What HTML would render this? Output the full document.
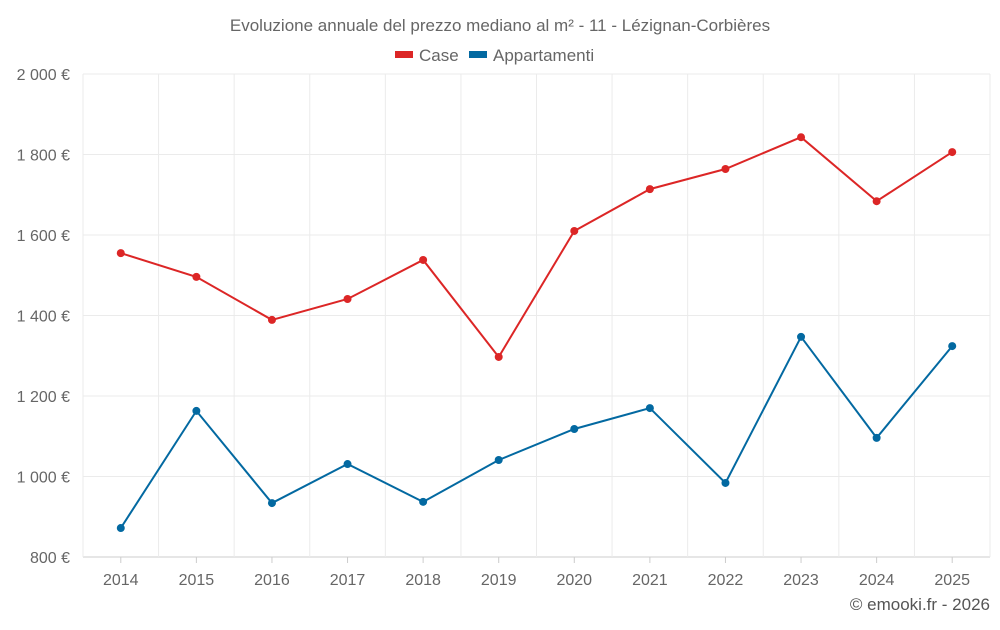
<!DOCTYPE html>
<html><head><meta charset="utf-8"><style>
body{margin:0;background:#fff;width:1000px;height:625px;overflow:hidden;font-family:"Liberation Sans",sans-serif}
</style></head><body>
<svg id="chart" width="1000" height="625" xmlns="http://www.w3.org/2000/svg" font-family="Liberation Sans, sans-serif">
<text x="500" y="31" text-anchor="middle" font-size="17" fill="#666">Evoluzione annuale del prezzo mediano al m² - 11 - Lézignan-Corbières</text>
<g>
<g><rect x="395" y="51" width="18" height="7" fill="#dc2626"/><text x="419" y="61" font-size="17" fill="#666">Case</text></g>
<g><rect x="469" y="51" width="18" height="7" fill="#0369a1"/><text x="493" y="61" font-size="17" fill="#666">Appartamenti</text></g>
</g>
<g id="grid"></g>
<g id="axes"></g>
<g id="series"></g>
<text x="990" y="610" text-anchor="end" font-size="17" fill="#555">© emooki.fr - 2026</text>
</svg>
<script>
const years=[2014,2015,2016,2017,2018,2019,2020,2021,2022,2023,2024,2025];
const caseValues=[1555,1496,1389,1441,1538,1297,1610,1714,1764,1843,1684,1806];
const apptValues=[872,1163,934,1031,937,1041,1118,1170,984,1347,1096,1324];
const yTicks=[800,1000,1200,1400,1600,1800,2000];
const yTickLabels=["800 €","1 000 €","1 200 €","1 400 €","1 600 €","1 800 €","2 000 €"];
const NS="http://www.w3.org/2000/svg";
const L=83,R=990,T=74,B=557,yMin=800,yMax=2000;
const bw=(R-L)/years.length;
const x=i=>L+bw*(i+0.5);
const y=v=>B-(v-yMin)/(yMax-yMin)*(B-T);
function mk(tag,attrs,parent){const e=document.createElementNS(NS,tag);for(const k in attrs)e.setAttribute(k,attrs[k]);parent.appendChild(e);return e;}
const grid=document.getElementById('grid'),axes=document.getElementById('axes'),series=document.getElementById('series');
yTicks.forEach((t,i)=>{
 const ln=mk('line',{x1:L,x2:R,y1:y(t),y2:y(t),stroke:i==0?'#ccc':'#ebebeb'},grid);
 
 
 const tx=mk('text',{x:70,y:y(t)+6,'text-anchor':'end','font-size':16,fill:'#666'},axes);
 tx.textContent=yTickLabels[i];
 
 
});
for(let i=0;i<=years.length;i++){
 const ln=mk('line',{x1:L+bw*i,x2:L+bw*i,y1:T,y2:B,stroke:'#ebebeb'},grid);
 
 
}
years.forEach((yr,i)=>{
 const tk=mk('line',{x1:x(i),x2:x(i),y1:B,y2:B+6,stroke:'#ccc'},axes);
 
 
 const tx=mk('text',{x:x(i),y:585,'text-anchor':'middle','font-size':16,fill:'#666'},axes);
 tx.textContent=yr;
 
 
});
function draw(vals,color,name){
 const g=mk('g',{},series);
 
 
 const p=mk('polyline',{points:vals.map((v,i)=>x(i)+','+y(v)).join(' '),fill:'none',stroke:color,'stroke-width':2},g);
 
 
 vals.forEach((v,i)=>{
  const c=mk('circle',{cx:x(i),cy:y(v),r:4,fill:color},g);
  
  
 });
}
draw(caseValues,'#dc2626','case');
draw(apptValues,'#0369a1','appartamenti');
</script>
</body></html>
